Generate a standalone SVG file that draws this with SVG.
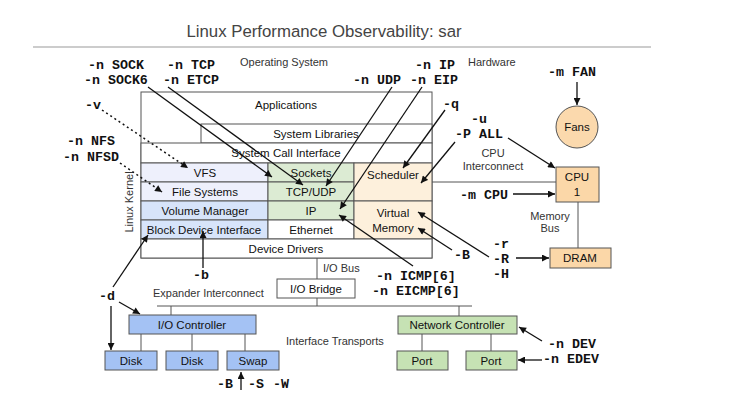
<svg xmlns="http://www.w3.org/2000/svg" width="742" height="410" viewBox="0 0 742 410">
<style>
text{font-family:"Liberation Sans",Arial,sans-serif;fill:#111}
.t{font-size:11.5px;text-anchor:middle}
.lab{font-size:11px;fill:#333}
.labc{font-size:11px;fill:#333;text-anchor:middle}
.m{font-family:"Liberation Mono","Courier New",monospace;font-size:13.3px;font-weight:bold;fill:#111}
.cell{stroke:#555;stroke-width:1}
.w{fill:#fff}.lav{fill:#eef0fc}.blu{fill:#d7e4fa}.grn{fill:#dcebd3}.org{fill:#fdf0dc}
.hw{fill:#fbd7a8;stroke:#555;stroke-width:1}
.io{fill:#a4c2f4;stroke:#555;stroke-width:1}
.net{fill:#c6e2b4;stroke:#555;stroke-width:1}
.bus{stroke:#555;stroke-width:1;fill:none}
.arr{stroke:#111;stroke-width:1.3;fill:none;marker-end:url(#ah)}
.dot{stroke:#111;stroke-width:1.5;stroke-dasharray:2 3;fill:none;marker-end:url(#ah)}
</style>
<defs>
<marker id="ah" viewBox="0 0 10 10" refX="10" refY="5" markerWidth="9" markerHeight="7" markerUnits="userSpaceOnUse" orient="auto">
<path d="M0,0 L10,5 L0,10 z" fill="#111"/>
</marker>
</defs>
<rect width="742" height="410" fill="#fff"/>
<g id="title">
<text x="324" y="37" style="font-size:16.8px;fill:#444;text-anchor:middle">Linux Performance Observability: sar</text>
<line x1="33" y1="47" x2="651" y2="47" stroke="#999" stroke-width="1"/>
</g>
<g id="labels">
<text class="lab" x="240" y="66">Operating System</text>
<text class="lab" x="468" y="66">Hardware</text>
<text class="labc" transform="translate(133,202) rotate(-90)">Linux Kernel</text>
<text class="labc" x="493" y="157">CPU</text>
<text class="labc" x="493" y="170">Interconnect</text>
<text class="labc" x="550" y="220">Memory</text>
<text class="labc" x="550" y="232">Bus</text>
<text class="lab" x="323" y="272">I/O Bus</text>
<text class="lab" x="153" y="297">Expander Interconnect</text>
<text class="lab" x="286" y="345">Interface Transports</text>
</g>
<g id="kernel">
<rect class="cell w" x="141" y="92" width="291" height="166"/>
<text class="t" x="286" y="109">Applications</text>
</g>
<g id="syslibs"><rect class="cell w" x="201" y="124" width="231" height="19"/><text class="t" x="316" y="138">System Libraries</text></g>
<g id="syscall"><rect class="cell w" x="141" y="143" width="291" height="20"/><text class="t" x="286" y="157">System Call Interface</text></g>
<g id="vfs"><rect class="cell lav" x="141" y="163" width="127" height="19"/><text class="t" x="205" y="177">VFS</text></g>
<g id="fs"><rect class="cell lav" x="141" y="182" width="127" height="19"/><text class="t" x="205" y="196">File Systems</text></g>
<g id="volmgr"><rect class="cell blu" x="141" y="201" width="127" height="19"/><text class="t" x="205" y="215">Volume Manager</text></g>
<g id="bdi"><rect class="cell blu" x="141" y="220" width="127" height="19"/><text class="t" x="204" y="234">Block Device Interface</text></g>
<g id="sockets"><rect class="cell grn" x="268" y="163" width="86" height="19"/><text class="t" x="311" y="177">Sockets</text></g>
<g id="tcpudp"><rect class="cell grn" x="268" y="182" width="86" height="19"/><text class="t" x="311" y="196">TCP/UDP</text></g>
<g id="ip"><rect class="cell grn" x="268" y="201" width="86" height="19"/><text class="t" x="311" y="215">IP</text></g>
<g id="ethernet"><rect class="cell w" x="268" y="220" width="86" height="19"/><text class="t" x="311" y="234">Ethernet</text></g>
<g id="scheduler"><rect class="cell org" x="354" y="163" width="78" height="38"/><text class="t" x="393" y="179">Scheduler</text></g>
<g id="vm"><rect class="cell org" x="354" y="201" width="78" height="38"/><text class="t" x="393" y="217">Virtual</text><text class="t" x="393" y="232">Memory</text></g>
<g id="drivers"><rect class="cell w" x="141" y="239" width="291" height="19"/><text class="t" x="286" y="253">Device Drivers</text></g>
<g id="fans"><circle class="hw" cx="577" cy="127" r="21" style="fill:#fbd9ad"/><text class="t" x="577" y="131">Fans</text></g>
<g id="cpu"><rect class="hw" x="556" y="167" width="43" height="35"/><text class="t" x="577" y="181">CPU</text><text class="t" x="577" y="196">1</text></g>
<g id="dram"><rect class="hw" x="550" y="248" width="61" height="20"/><text class="t" x="580" y="262">DRAM</text></g>
<g id="iobridge"><rect class="cell w" x="277" y="279" width="78" height="19"/><text class="t" x="316" y="293">I/O Bridge</text></g>
<g id="ioctrl"><rect class="io" x="129" y="315" width="127" height="19"/><text class="t" x="192" y="329">I/O Controller</text></g>
<g id="disk1"><rect class="io" x="105" y="351" width="52" height="19"/><text class="t" x="131" y="365">Disk</text></g>
<g id="disk2"><rect class="io" x="166" y="351" width="52" height="19"/><text class="t" x="192" y="365">Disk</text></g>
<g id="swap"><rect class="io" x="227" y="351" width="52" height="19"/><text class="t" x="253" y="365">Swap</text></g>
<g id="netctrl"><rect class="net" x="398" y="316" width="119" height="18"/><text class="t" x="457" y="329">Network Controller</text></g>
<g id="port1"><rect class="net" x="397" y="351" width="51" height="19"/><text class="t" x="422" y="365">Port</text></g>
<g id="port2"><rect class="net" x="466" y="351" width="51" height="19"/><text class="t" x="491" y="365">Port</text></g>
<g id="connectors">
<line class="bus" x1="432" y1="182" x2="556" y2="182"/>
<line class="bus" x1="578" y1="202" x2="578" y2="248"/>
<line class="bus" x1="317" y1="258" x2="317" y2="279"/>
<line class="bus" x1="317" y1="298" x2="317" y2="306"/>
<line class="bus" x1="157" y1="306" x2="472" y2="306"/>
<line class="bus" x1="171" y1="306" x2="171" y2="315"/>
<line class="bus" x1="459" y1="306" x2="459" y2="316"/>
<line class="bus" x1="141" y1="334" x2="141" y2="351"/>
<line class="bus" x1="192" y1="334" x2="192" y2="351"/>
<line class="bus" x1="245" y1="334" x2="245" y2="351"/>
<line class="bus" x1="422" y1="334" x2="422" y2="351"/>
<line class="bus" x1="491" y1="334" x2="491" y2="351"/>
<line class="arr" x1="148" y1="87" x2="272" y2="177"/>
<line class="arr" x1="168" y1="87" x2="303" y2="185"/>
<line class="arr" x1="392" y1="87" x2="326" y2="186"/>
<line class="arr" x1="422" y1="87" x2="340" y2="209"/>
<line class="arr" x1="445" y1="110" x2="403" y2="168"/>
<line class="arr" x1="455" y1="142" x2="421" y2="183"/>
<line class="arr" x1="508" y1="138" x2="555" y2="168"/>
<line class="arr" x1="577" y1="82" x2="577" y2="105"/>
<line class="arr" x1="513" y1="194" x2="555" y2="194"/>
<line class="arr" x1="516" y1="258" x2="549" y2="258"/>
<line class="arr" x1="489" y1="257" x2="418" y2="212"/>
<line class="arr" x1="452" y1="250" x2="418" y2="228"/>
<line class="arr" x1="413" y1="266" x2="339" y2="215"/>
<line class="dot" x1="102" y1="110" x2="188" y2="168"/>
<line class="dot" x1="120" y1="163" x2="162" y2="192"/>
<line class="arr" x1="203" y1="268" x2="203" y2="231"/>
<line class="arr" x1="113" y1="287" x2="148" y2="235"/>
<line class="arr" x1="119" y1="302" x2="140" y2="314"/>
<line class="arr" x1="111" y1="306" x2="111" y2="350"/>
<line class="arr" x1="241" y1="390" x2="241" y2="372"/>
<line class="arr" x1="542" y1="341" x2="519" y2="327"/>
<line class="arr" x1="542" y1="360" x2="518" y2="360"/>
</g>
<g id="options">
<text class="m" x="88" y="69">-n SOCK</text>
<text class="m" x="84" y="84">-n SOCK6</text>
<text class="m" x="167" y="69">-n TCP</text>
<text class="m" x="163" y="84">-n ETCP</text>
<text class="m" x="415" y="69">-n IP</text>
<text class="m" x="353" y="84">-n UDP</text>
<text class="m" x="410" y="84">-n EIP</text>
<text class="m" x="443" y="108">-q</text>
<text class="m" x="471" y="123">-u</text>
<text class="m" x="455" y="138">-P ALL</text>
<text class="m" x="548" y="76">-m FAN</text>
<text class="m" x="85" y="109">-v</text>
<text class="m" x="67" y="145">-n NFS</text>
<text class="m" x="63" y="161">-n NFSD</text>
<text class="m" x="460" y="199">-m CPU</text>
<text class="m" x="493" y="248">-r</text>
<text class="m" x="493" y="263">-R</text>
<text class="m" x="493" y="278">-H</text>
<text class="m" x="454" y="259">-B</text>
<text class="m" x="376" y="280">-n ICMP[6]</text>
<text class="m" x="372" y="295">-n EICMP[6]</text>
<text class="m" x="193" y="279">-b</text>
<text class="m" x="99" y="300">-d</text>
<text class="m" x="217" y="388">-B</text>
<text class="m" x="248" y="388">-S</text>
<text class="m" x="273" y="388">-W</text>
<text class="m" x="548" y="348">-n DEV</text>
<text class="m" x="543" y="363">-n EDEV</text>
</g>
</svg>
